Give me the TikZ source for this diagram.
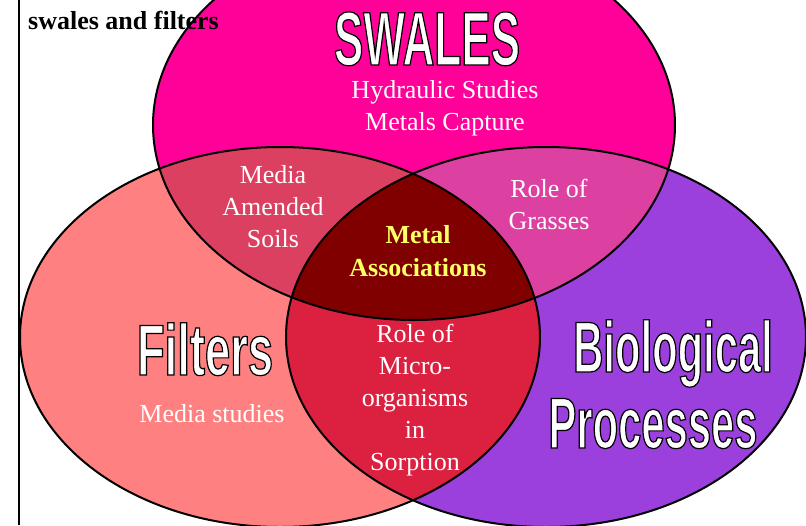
\documentclass[tikz,border=0pt]{standalone}
\usepackage{fontspec}
\setmainfont{Liberation Serif}
\newfontfamily\headfont[FakeStretch=0.58]{Liberation Sans}
\newfontfamily\headwidefont[FakeStretch=0.63]{Liberation Sans}
% white letters with a black edge (text render mode 2)
\newcommand{\edged}[1]{\special{pdf:literal direct q 2 Tr 1.2 w 0 0 0 RG}#1\special{pdf:literal direct Q}}

\definecolor{swalesc}{RGB}{255,0,153}
\definecolor{filterc}{RGB}{255,128,128}
\definecolor{bioc}{RGB}{155,64,220}
\definecolor{swfic}{RGB}{220,64,96}
\definecolor{swbic}{RGB}{220,64,160}
\definecolor{fibic}{RGB}{220,32,64}
\definecolor{allc}{RGB}{128,0,0}
\definecolor{metalc}{RGB}{255,255,102}

\begin{document}
\begin{tikzpicture}[x=1pt, y=-1pt,
  ring/.style={draw=black, line width=2pt},
  lbl/.style={text=white, align=center, anchor=base, inner sep=1pt, font=\fontsize{26}{32}\selectfont},
  head/.style={text=white, anchor=base, inner sep=0pt, font=\headfont\bfseries\fontsize{72}{76}\selectfont}]
\useasboundingbox (0,0) rectangle (806,525);

\coordinate (swc) at (414,125);
\coordinate (fic) at (280,337);
\coordinate (bic) at (546,337);

% the three sets
\fill[swalesc] (swc) ellipse [x radius=261pt, y radius=195pt];
\fill[filterc] (fic) ellipse [x radius=260pt, y radius=190pt];
\fill[bioc] (bic) ellipse [x radius=260pt, y radius=190pt];

% overlaps
\begin{scope}
  \clip (swc) ellipse [x radius=261pt, y radius=195pt];
  \fill[swfic] (fic) ellipse [x radius=260pt, y radius=190pt];
  \fill[swbic] (bic) ellipse [x radius=260pt, y radius=190pt];
\end{scope}
\begin{scope}
  \clip (fic) ellipse [x radius=260pt, y radius=190pt];
  \fill[fibic] (bic) ellipse [x radius=260pt, y radius=190pt];
  \clip (swc) ellipse [x radius=261pt, y radius=195pt];
  \fill[allc] (bic) ellipse [x radius=260pt, y radius=190pt];
\end{scope}

% outlines
\draw[ring] (swc) ellipse [x radius=261pt, y radius=195pt];
\draw[ring] (fic) ellipse [x radius=260pt, y radius=190pt];
\draw[ring] (bic) ellipse [x radius=260pt, y radius=190pt];

% margin rule
\draw[line width=1.8pt] (19,0) -- (19,525);

% titles
\node[head, font=\headfont\bfseries\fontsize{76}{80}\selectfont] (swales) at (427,65) {\edged{SWALES}};
\node[head, font=\headwidefont\bfseries\fontsize{72}{76}\selectfont] (filters) at (205,375) {\edged{Filters}};
\node[head] (bio) at (673,372) {\edged{Biological}};
\node[head] (proc) at (653,448) {\edged{Processes}};

% topics
\node[lbl] (hydro) at (445,130) {Hydraulic Studies\\Metals Capture};
\node[lbl] (amend) at (273,247) {Media\\Amended\\Soils};
\node[lbl] (grass) at (549,229) {Role of\\Grasses};
\node[lbl, text=metalc, font=\bfseries\fontsize{26}{33}\selectfont] (metal) at (418,276) {Metal\\Associations};
\node[lbl] (micro) at (415,470) {Role of\\Micro-\\organisms\\in\\Sorption};
\node[lbl] (media) at (212,422) {Media studies};

\node[anchor=base west, inner sep=1pt, font=\bfseries\fontsize{26}{30}\selectfont] (note) at (27,29) {swales and filters};
\end{tikzpicture}
\end{document}
